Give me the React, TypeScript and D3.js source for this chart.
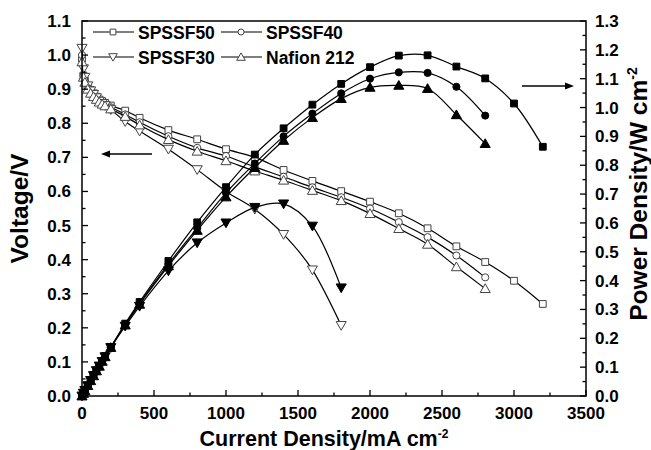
import React from "react";
import * as d3 from "d3";

// ---- data ----
const currents50 = [0, 10, 20, 40, 60, 80, 100, 120, 140, 160, 200, 300, 400, 600, 800, 1000, 1200, 1400, 1600, 1800, 2000, 2200, 2400, 2600, 2800, 3000, 3200];
const voltage50 = [0.99, 0.94, 0.925, 0.91, 0.898, 0.888, 0.878, 0.87, 0.865, 0.86, 0.852, 0.837, 0.816, 0.78, 0.753, 0.724, 0.7, 0.663, 0.631, 0.601, 0.57, 0.536, 0.492, 0.439, 0.393, 0.338, 0.27];
const power50 = [0, 0.009, 0.019, 0.036, 0.054, 0.071, 0.088, 0.104, 0.121, 0.138, 0.17, 0.251, 0.326, 0.468, 0.602, 0.724, 0.837, 0.928, 1.01, 1.082, 1.14, 1.18, 1.181, 1.142, 1.101, 1.014, 0.864];

const currents40 = [0, 10, 20, 40, 60, 80, 100, 120, 140, 160, 200, 300, 400, 600, 800, 1000, 1200, 1400, 1600, 1800, 2000, 2200, 2400, 2600, 2800];
const voltage40 = [1.0, 0.94, 0.925, 0.905, 0.893, 0.883, 0.874, 0.866, 0.86, 0.855, 0.847, 0.826, 0.803, 0.762, 0.728, 0.704, 0.672, 0.643, 0.612, 0.583, 0.55, 0.51, 0.466, 0.412, 0.348];
const power40 = [0, 0.009, 0.019, 0.036, 0.054, 0.071, 0.087, 0.104, 0.12, 0.137, 0.169, 0.248, 0.321, 0.457, 0.582, 0.704, 0.806, 0.9, 0.979, 1.049, 1.1, 1.122, 1.12, 1.072, 0.972];

const currents30 = [0, 10, 20, 40, 60, 80, 100, 120, 140, 160, 200, 300, 400, 600, 800, 1000, 1200, 1400, 1600, 1800];
const voltage30 = [1.02, 0.96, 0.935, 0.91, 0.895, 0.885, 0.875, 0.865, 0.858, 0.852, 0.84, 0.805, 0.777, 0.724, 0.664, 0.6, 0.548, 0.474, 0.37, 0.207];
const power30 = [0, 0.01, 0.019, 0.036, 0.054, 0.071, 0.088, 0.104, 0.12, 0.136, 0.168, 0.242, 0.311, 0.434, 0.531, 0.6, 0.654, 0.666, 0.589, 0.375];

const currentsNaf = [0, 10, 20, 40, 60, 80, 100, 120, 140, 160, 200, 300, 400, 600, 800, 1000, 1200, 1400, 1600, 1800, 2000, 2200, 2400, 2600, 2800];
const voltageNaf = [0.98, 0.935, 0.92, 0.9, 0.888, 0.878, 0.87, 0.862, 0.856, 0.851, 0.842, 0.82, 0.795, 0.752, 0.718, 0.69, 0.66, 0.633, 0.603, 0.573, 0.535, 0.491, 0.445, 0.379, 0.315];
const powerNaf = [0, 0.009, 0.018, 0.036, 0.053, 0.07, 0.087, 0.103, 0.12, 0.136, 0.168, 0.246, 0.318, 0.451, 0.574, 0.69, 0.792, 0.886, 0.965, 1.031, 1.07, 1.077, 1.066, 0.975, 0.875];

const seriesNames = ["SPSSF50", "SPSSF40", "SPSSF30", "Nafion 212"];
const markerTypes = ["square", "circle", "down", "up"];

const xTicks = [0, 500, 1000, 1500, 2000, 2500, 3000, 3500];
const leftTicks = [0, 0.1, 0.2, 0.3, 0.4, 0.5, 0.6, 0.7, 0.8, 0.9, 1.0, 1.1];
const rightTicks = [0, 0.1, 0.2, 0.3, 0.4, 0.5, 0.6, 0.7, 0.8, 0.9, 1.0, 1.1, 1.2, 1.3];

const W = 651, H = 450;
const L = 82, R = 586, T = 21, B = 396;
const FONT = "'Liberation Sans', Arial, Helvetica, sans-serif";

const x = d3.scaleLinear().domain([0, 3500]).range([L, R]);
const yV = d3.scaleLinear().domain([0, 1.1]).range([B, T]);
const yP = d3.scaleLinear().domain([0, 1.3]).range([B, T]);

const series = [
  { name: seriesNames[0], c: currents50, v: voltage50, p: power50, m: markerTypes[0] },
  { name: seriesNames[1], c: currents40, v: voltage40, p: power40, m: markerTypes[1] },
  { name: seriesNames[2], c: currents30, v: voltage30, p: power30, m: markerTypes[2] },
  { name: seriesNames[3], c: currentsNaf, v: voltageNaf, p: powerNaf, m: markerTypes[3] },
];

function markerPath(m: string, scale = 1) {
  const sym =
    m === "square" ? d3.symbolSquare : m === "circle" ? d3.symbolCircle : d3.symbolTriangle;
  const size = m === "square" ? 46 : m === "circle" ? 40 : 44;
  return d3.symbol().type(sym).size(size * scale * scale)() as string;
}

function Marker({ m, cx, cy, filled, scale = 1 }: any) {
  const rot = m === "down" ? 180 : 0;
  const dy = m === "down" ? -1 : m === "up" ? 1 : 0;
  return (
    <path
      d={markerPath(m, scale)}
      transform={`translate(${cx},${cy + dy * scale}) rotate(${rot})`}
      fill={filled ? "#000" : "#fff"}
      stroke={filled ? "#000" : "#444"}
      strokeWidth={1}
    />
  );
}

export default function App() {
  const vLine = (s: any) =>
    d3.line<number>().x((_, i) => x(s.c[i])).y((d) => yV(d)).curve(d3.curveMonotoneX)(s.v) as string;
  const pLine = (s: any) =>
    d3.line<number>().x((_, i) => x(s.c[i])).y((d) => yP(d)).curve(d3.curveCatmullRom)(s.p) as string;

  const xMinor = d3.range(0, 3501, 250);
  const vMinor = d3.range(0, 1.1001, 0.05);
  const pMinor = d3.range(0, 1.3001, 0.05);

  const tickStyle = { fontFamily: FONT, fontWeight: 700, fontSize: 17 } as any;

  return (
    <svg width={W} height={H} style={{ position: "absolute", left: 0, top: 0, background: "#fff" }}>
      <rect x={0} y={0} width={W} height={H} fill="#fff" />
      {/* voltage curves */}
      {series.map((s) => (
        <g key={"v" + s.name}>
          <path d={vLine(s)} fill="none" stroke="#000" strokeWidth={1.2} />
          {s.v.map((d, i) => (
            <Marker key={i} m={s.m} cx={x(s.c[i])} cy={yV(d)} filled={false} />
          ))}
        </g>
      ))}
      {/* power curves */}
      {series.map((s) => (
        <g key={"p" + s.name}>
          <path d={pLine(s)} fill="none" stroke="#000" strokeWidth={1.2} />
          {s.p.map((d, i) => (
            <Marker key={i} m={s.m} cx={x(s.c[i])} cy={yP(d)} filled={true} />
          ))}
        </g>
      ))}

      {/* frame */}
      <rect x={L} y={T} width={R - L} height={B - T} fill="none" stroke="#000" strokeWidth={1.5} />

      {/* x ticks */}
      {xMinor.map((t) => (
        <line key={"xm" + t} x1={x(t)} x2={x(t)} y1={B} y2={B - (t % 500 === 0 ? 6 : 3.5)} stroke="#000" strokeWidth={1.3} />
      ))}
      {xTicks.map((t) => (
        <text key={"xl" + t} x={x(t)} y={419} textAnchor="middle" style={tickStyle}>
          {t}
        </text>
      ))}
      {/* left ticks */}
      {vMinor.map((t, i) => (
        <line key={"vm" + i} x1={L} x2={L + (i % 2 === 0 ? 6 : 3.5)} y1={yV(t)} y2={yV(t)} stroke="#000" strokeWidth={1.3} />
      ))}
      {leftTicks.map((t) => (
        <text key={"vl" + t} x={71} y={yV(t) + 6} textAnchor="end" style={tickStyle}>
          {t.toFixed(1)}
        </text>
      ))}
      {/* right ticks */}
      {pMinor.map((t, i) => (
        <line key={"pm" + i} x1={R} x2={R - (i % 2 === 0 ? 6 : 3.5)} y1={yP(t)} y2={yP(t)} stroke="#000" strokeWidth={1.3} />
      ))}
      {rightTicks.map((t) => (
        <text key={"pl" + t} x={595} y={yP(t) + 6} textAnchor="start" style={tickStyle}>
          {t.toFixed(1)}
        </text>
      ))}

      {/* axis titles */}
      <text x={324} y={446} textAnchor="middle" style={{ fontFamily: FONT, fontWeight: 700, fontSize: 21.5 }}>
        Current Density/mA cm
        <tspan dy={-8} style={{ fontSize: 12 }}>-2</tspan>
      </text>
      <text
        transform={`translate(28,${(T + B) / 2}) rotate(-90)`}
        textAnchor="middle"
        style={{ fontFamily: FONT, fontWeight: 700, fontSize: 24.5 }}
      >
        Voltage/V
      </text>
      <text
        transform={`translate(647,194) rotate(-90)`}
        textAnchor="middle"
        style={{ fontFamily: FONT, fontWeight: 700, fontSize: 24.5 }}
      >
        Power Density/W cm
        <tspan dy={-10} style={{ fontSize: 14 }}>-2</tspan>
      </text>

      {/* arrows */}
      <line x1={152} x2={106} y1={154} y2={154} stroke="#000" strokeWidth={1.5} />
      <path d="M101,154 L110,150.5 L110,157.5 Z" fill="#000" />
      <line x1={522} x2={568} y1={86} y2={86} stroke="#000" strokeWidth={1.5} />
      <path d="M574,86 L565,82.5 L565,89.5 Z" fill="#000" />

      {/* legend */}
      {series.map((s, i) => {
        const col = i % 2;
        const row = Math.floor(i / 2);
        const lx = col === 0 ? 93 : 221;
        const ly = row === 0 ? 32 : 57;
        return (
          <g key={"lg" + s.name}>
            <line x1={lx} x2={lx + 41} y1={ly} y2={ly} stroke="#000" strokeWidth={1.2} />
            <Marker m={s.m} cx={lx + 20} cy={ly} filled={false} scale={0.85} />
            <text x={lx + 45} y={ly + 6.5} style={{ fontFamily: FONT, fontWeight: 700, fontSize: 17.5 }}>
              {s.name}
            </text>
          </g>
        );
      })}
    </svg>
  );
}
